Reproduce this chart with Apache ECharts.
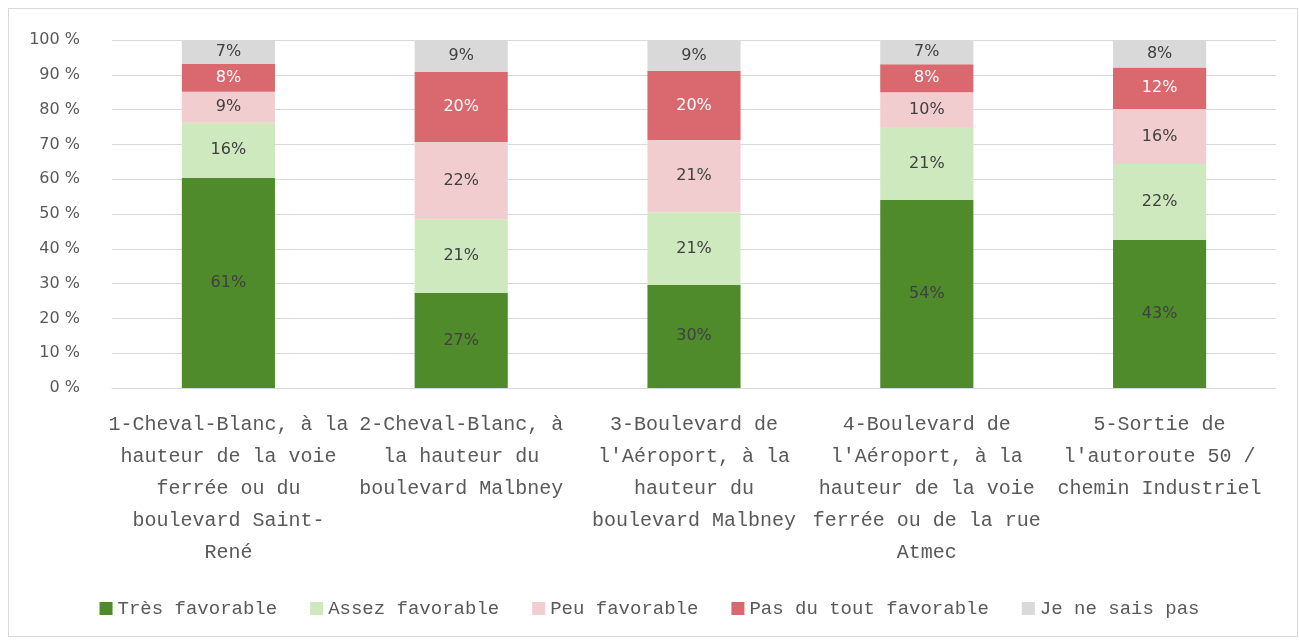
<!DOCTYPE html>
<html>
<head>
<meta charset="utf-8">
<script src="https://cdn.jsdelivr.net/npm/echarts@6/dist/echarts.min.js"></script>
<style>
  html, body { margin: 0; padding: 0; background: #fff; }
  #wrap { position: absolute; left: 8px; top: 8px; width: 1288px; height: 627px; border: 1px solid #d9d9d9; }
  #chart { position: absolute; left: 0; top: 0; width: 1299px; height: 641px; }
</style>
</head>
<body>
<div id="wrap"></div>
<div id="chart"></div>
<script>
// categories (line breaks as in the original)
const categories = [
  "1-Cheval-Blanc, à la\nhauteur de la voie\nferrée ou du\nboulevard Saint-\nRené",
  "2-Cheval-Blanc, à\nla hauteur du\nboulevard Malbney",
  "3-Boulevard de\nl'Aéroport, à la\nhauteur du\nboulevard Malbney",
  "4-Boulevard de\nl'Aéroport, à la\nhauteur de la voie\nferrée ou de la rue\nAtmec",
  "5-Sortie de\nl'autoroute 50 /\nchemin Industriel"
];
const tresFavorable = [61, 27, 30, 54, 43];
const assezFavorable = [16, 21, 21, 21, 22];
const peuFavorable = [9, 22, 21, 10, 16];
const pasDuTout = [8, 20, 20, 8, 12];
const neSaisPas = [7, 9, 9, 7, 8];
const yTicks = [0, 10, 20, 30, 40, 50, 60, 70, 80, 90, 100];

const seriesDefs = [
  { name: "Très favorable", data: tresFavorable, color: "#4f8a2b", label: "#404040" },
  { name: "Assez favorable", data: assezFavorable, color: "#cfe9bf", label: "#404040" },
  { name: "Peu favorable", data: peuFavorable, color: "#f2cdd0", label: "#404040" },
  { name: "Pas du tout favorable", data: pasDuTout, color: "#d9686f", label: "#ffffff" },
  { name: "Je ne sais pas", data: neSaisPas, color: "#d9d9d9", label: "#404040" }
];

// 100% stacked: each column is scaled to its own total
const totals = categories.map((c, i) => seriesDefs.reduce((s, d) => s + d.data[i], 0));

const chart = echarts.init(document.getElementById("chart"));
const option = {
  animation: false,
  grid: { left: 112, right: 23, top: 40, bottom: 253 },
  legend: {
    bottom: 18,
    left: "center",
    icon: "rect",
    itemWidth: 13,
    itemHeight: 13,
    itemGap: 33,
    textStyle: { fontFamily: "Liberation Mono", fontSize: 19, color: "#595959" },
    data: seriesDefs.map(d => d.name)
  },
  xAxis: {
    type: "category",
    data: categories,
    axisTick: { show: false },
    axisLine: { lineStyle: { color: "#d9d9d9" } },
    axisLabel: {
      interval: 0,
      margin: 21,
      fontFamily: "Liberation Mono",
      fontSize: 20,
      lineHeight: 32,
      color: "#595959"
    }
  },
  yAxis: {
    type: "value",
    min: 0,
    max: 100,
    interval: 10,
    axisLine: { show: false },
    axisTick: { show: false },
    splitLine: { lineStyle: { color: "#d9d9d9" } },
    axisLabel: {
      margin: 32,
      fontFamily: "DejaVu Sans",
      fontSize: 16,
      color: "#595959",
      formatter: v => yTicks.includes(v) ? v + " %" : ""
    }
  },
  series: seriesDefs.map(d => ({
    name: d.name,
    type: "bar",
    stack: "total",
    barWidth: "40%",
    itemStyle: { color: d.color },
    label: {
      show: true,
      position: "inside",
      fontFamily: "DejaVu Sans",
      fontSize: 16,
      color: d.label,
      formatter: p => d.data[p.dataIndex] + "%"
    },
    data: d.data.map((v, i) => v / totals[i] * 100)
  }))
};
chart.setOption(option);
</script>
</body>
</html>
